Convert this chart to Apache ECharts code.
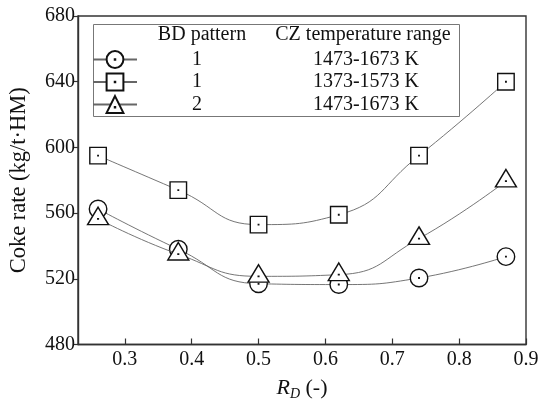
<!DOCTYPE html>
<html>
<head>
<meta charset="utf-8">
<script src="https://cdn.jsdelivr.net/npm/echarts@6/dist/echarts.min.js"></script>
<style>html,body{margin:0;padding:0;background:#fff}#c{width:539px;height:406px}</style>
</head>
<body>
<div id="c"></div>
<script>
var rd = [0.26, 0.38, 0.50, 0.62, 0.74, 0.87];
var cokeCircle = [562.5, 538, 517, 516.5, 520.5, 533.5];
var cokeSquare = [595, 574, 553, 559, 595, 640];
var cokeTriangle = [556.5, 535, 521.5, 522.5, 544.5, 579.5];
var xTicks = [0.3, 0.4, 0.5, 0.6, 0.7, 0.8, 0.9];
var legendBD = ['1', '1', '2'];
var legendCZ = ['1473-1673 K', '1373-1573 K', '1473-1673 K'];
var seriesNames = ['c', 's', 't'];

function pairs(v) { return rd.map(function (x, i) { return [x, v[i]]; }); }

var FONT = 'Liberation Serif';
var symCircle = 'path://M0,-10A10,10,0,1,1,0,10A10,10,0,1,1,0,-10ZM-0.3,-0.3L0.3,-0.3L0.3,0.3L-0.3,0.3Z';
var symSquare = 'path://M-10,-10L10,-10L10,10L-10,10ZM-0.3,-0.3L0.3,-0.3L0.3,0.3L-0.3,0.3Z';
var symTri = 'path://M0,-10L11.5,10L-11.5,10ZM-0.3,3.0L0.3,3.0L0.3,3.6L-0.3,3.6Z';

var markerStyle = { color: '#fff', borderColor: '#111', borderWidth: 1.4 };
var lineStyle = { color: '#666', width: 0.9 };

var chart = echarts.init(document.getElementById('c'), null, { renderer: 'canvas' });
chart.setOption({
  animation: false,
  backgroundColor: '#fff',
  grid: { left: 78, right: 13, top: 16, bottom: 61.5, show: true, borderColor: '#333', borderWidth: 1.4, outerBoundsMode: 'none' },
  xAxis: {
    type: 'value', min: 0.23, max: 0.9,
    axisLine: { lineStyle: { color: '#333', width: 1.4 } },
    axisTick: { inside: true, length: 6, customValues: xTicks, lineStyle: { color: '#333', width: 1.2 } },
    axisLabel: { customValues: xTicks, color: '#111', fontFamily: FONT, fontSize: 20, margin: 5,
      formatter: function (v) { return v.toFixed(1); } },
    splitLine: { show: false },
    name: '{i|R}{s|D}{n| (-)}',
    nameLocation: 'middle', nameGap: 30,
    nameTextStyle: {
      rich: {
        i: { fontFamily: FONT, fontSize: 22, fontStyle: 'italic', color: '#111' },
        s: { fontFamily: FONT, fontSize: 14, fontStyle: 'italic', color: '#111', padding: [13, 0, 0, 0] },
        n: { fontFamily: FONT, fontSize: 22, color: '#111' }
      }
    }
  },
  yAxis: {
    type: 'value', min: 480, max: 680, interval: 40,
    axisLine: { lineStyle: { color: '#333', width: 1.4 } },
    axisTick: { inside: false, length: 4, lineStyle: { color: '#333', width: 1.2 } },
    axisLabel: { color: '#111', fontFamily: FONT, fontSize: 20, margin: 3 },
    splitLine: { show: false },
    name: 'Coke rate (kg/t\u00B7HM)',
    nameLocation: 'middle', nameGap: 47,
    nameTextStyle: { fontFamily: FONT, fontSize: 22.5, color: '#111' }
  },
  legend: {
    data: seriesNames,
    orient: 'vertical', left: 92, top: 49.5, padding: 0,
    itemWidth: 44, itemHeight: 21, itemGap: 2.5,
    formatter: function (name) {
      var i = seriesNames.indexOf(name);
      return '{a|' + legendBD[i] + '}{b|' + legendCZ[i] + '}';
    },
    textStyle: {
      rich: {
        a: { width: 110, align: 'center', fontFamily: FONT, fontSize: 20, color: '#111', lineHeight: 21 },
        b: { width: 228, align: 'center', fontFamily: FONT, fontSize: 20, color: '#111', lineHeight: 21 }
      }
    }
  },
  graphic: [
    { type: 'rect', left: 91, top: 22, shape: { width: 366, height: 92 },
      style: { fill: 'none', stroke: '#777', lineWidth: 1 }, z: 1 },
    { type: 'text', x: 202, y: 35, style: { text: 'BD pattern', fontFamily: FONT, fontSize: 20, fill: '#111', align: 'center', verticalAlign: 'middle' } },
    { type: 'text', x: 363, y: 35, style: { text: 'CZ temperature range', fontFamily: FONT, fontSize: 20, fill: '#111', align: 'center', verticalAlign: 'middle' } }
  ],
  series: [
    { name: 's', type: 'line', data: pairs(cokeSquare), smooth: 0.5,
      symbol: symSquare, symbolSize: 16.5, itemStyle: markerStyle, lineStyle: lineStyle, z: 2 },
    { name: 'c', type: 'line', data: pairs(cokeCircle), smooth: 0.5,
      symbol: symCircle, symbolSize: 17.5, itemStyle: markerStyle, lineStyle: lineStyle, z: 3 },
    { name: 't', type: 'line', data: pairs(cokeTriangle), smooth: 0.5,
      symbol: symTri, symbolSize: [21, 17.5], symbolOffset: [0, -2.9], itemStyle: markerStyle, lineStyle: lineStyle, z: 4 }
  ]
});
</script>
</body>
</html>
